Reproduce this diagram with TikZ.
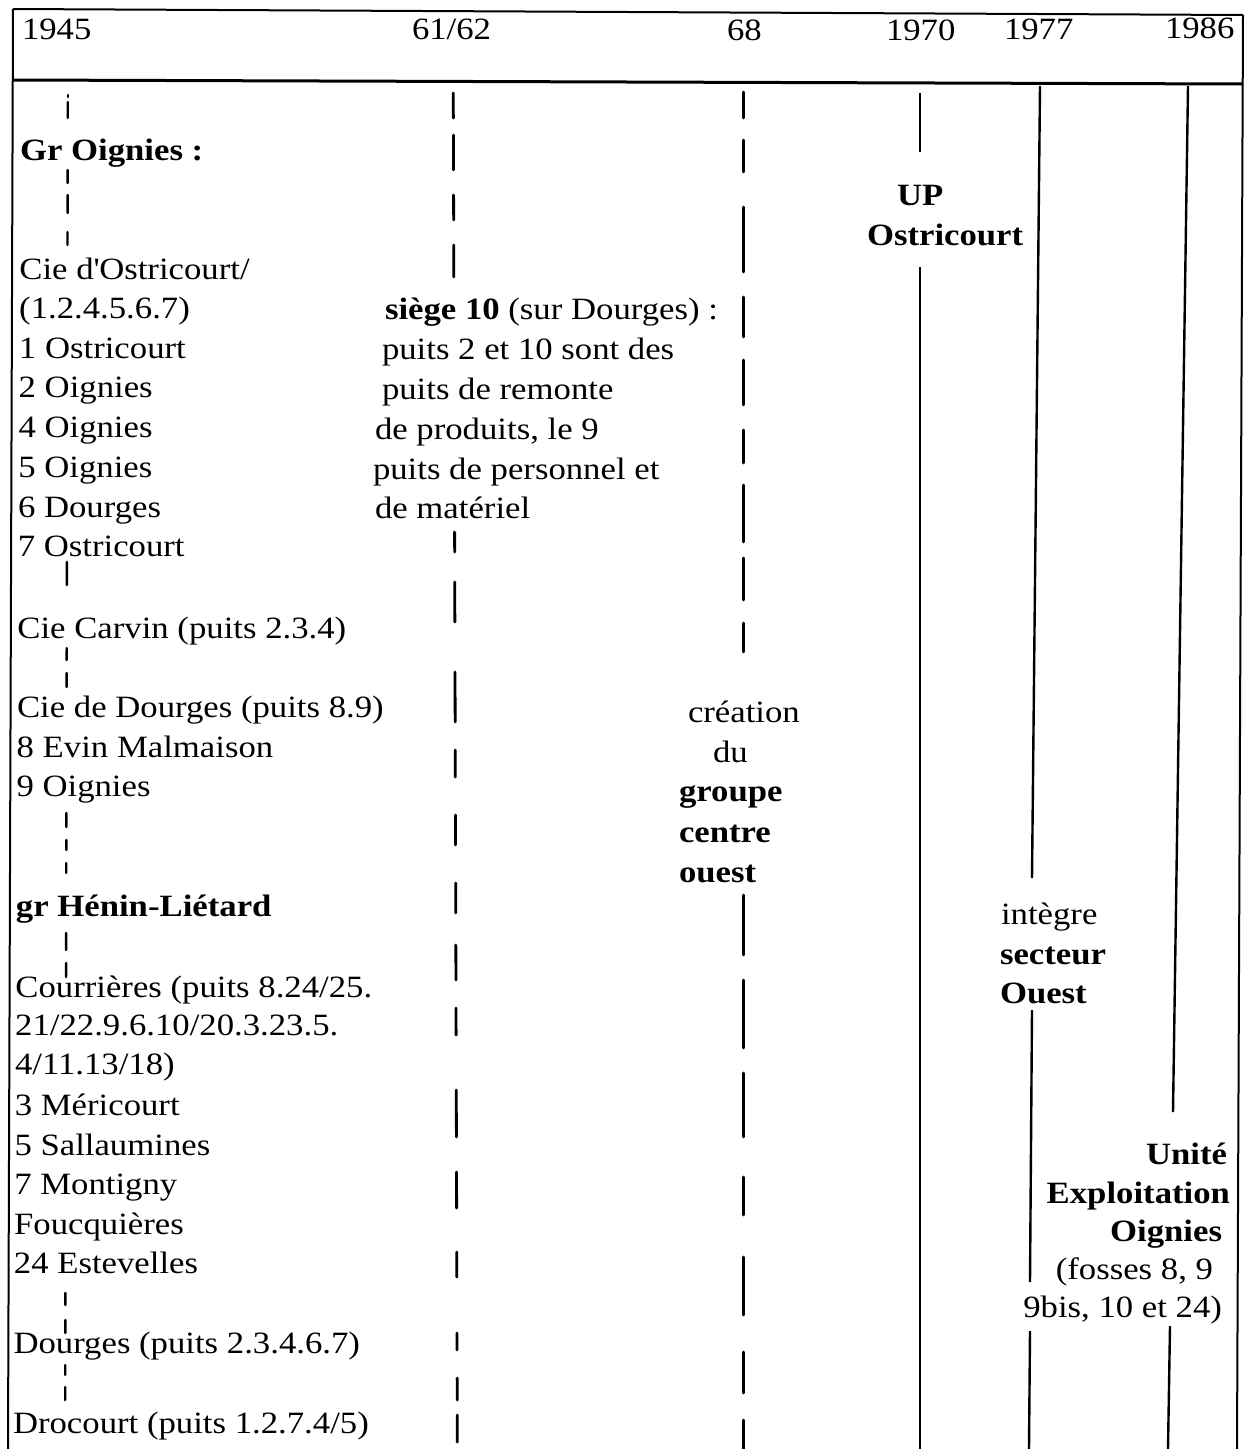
\documentclass[tikz,border=0pt]{standalone}
\usepackage{fontspec}
\setmainfont{Liberation Serif}[FakeStretch=1.12]
\begin{document}
\begin{tikzpicture}[x=1pt,y=-1pt,
  font=\fontsize{31}{40}\selectfont,
  txt/.style={anchor=base west,inner sep=0pt,outer sep=0pt},
  rtxt/.style={anchor=base east,inner sep=0pt,outer sep=0pt},
  framel/.style={line width=2pt},
  headl/.style={line width=3pt},
  colseg/.style={line width=2.8pt,line cap=round},
  thinseg/.style={line width=2.4pt,line cap=round},
  solidcol/.style={line width=2.4pt}]
\useasboundingbox (0,0) rectangle (1246,1449);
% frame
\draw[framel] (13,9) -- (1243,15);
\draw[framel] (13,9) -- (8,1449);
\draw[framel] (1243,15) -- (1237,1449);
\draw[headl] (13,80) -- (1243,84);
% header
\node[txt] (y1945) at (22,39) {1945};
\node[txt] (y6162) at (412,39) {61/62};
\node[txt] (y68) at (727,40) {68};
\node[txt] (y1970) at (886,40) {1970};
\node[txt] (y1977) at (1004,39) {1977};
\node[txt] (y1986) at (1165,38) {1986};
% 1945 column (dashed)
\draw[thinseg] (68,95) -- (68,97);
\foreach \a/\b in {102/118,170/183,195/213,232/245,562/585,648/660,673/687,813/827,840/850,863/873,933/950,963/977,1293/1305,1320/1333,1365/1375,1387/1400}
  \draw[thinseg] ({68-0.002*\a},\a) -- ({68-0.002*\b},\b);
% 61/62 column
\foreach \a/\b in {93/118,135/170,195/220,245/277,532/552,582/622,672/722,750/777,815/845,883/913,945/980,1008/1035,1090/1137,1172/1208,1252/1277,1333/1350,1378/1400,1415/1442}
  \draw[colseg] ({453+0.003*\a},\a) -- ({453+0.003*\b},\b);
% 68 column
\foreach \a/\b in {92/118,140/172,207/272,297/337,360/405,430/463,485/542,558/600,623/652,895/955,980/1048,1073/1137,1177/1215,1257/1315,1352/1393,1420/1449}
  \draw[colseg] (743.5,\a) -- (743.5,\b);
% 1970 column
\draw[solidcol] (920,93) -- (920,152);
\draw[solidcol] (920,267) -- (920,1449);
% 1977 column
\draw[solidcol] (1040,86) -- (1032,878);
\draw[solidcol] (1032,1010) -- (1030,1282);
\draw[solidcol] (1030,1331) -- (1029,1449);
% 1986 column
\draw[solidcol] (1188,86) -- (1173,1112);
\draw[solidcol] (1170,1326) -- (1168,1449);
% left column texts
\node[txt] (t01) at (20,160) {\bfseries Gr Oignies :};
\node[txt] (t02) at (19.4,279) {Cie d\textquotesingle Ostricourt/};
\node[txt] (t03) at (19.2,318) {(1.2.4.5.6.7)};
\node[txt] (t04) at (19,358) {1 Ostricourt};
\node[txt] (t05) at (18.7,397) {2 Oignies};
\node[txt] (t06) at (18.5,437) {4 Oignies};
\node[txt] (t07) at (18.3,477) {5 Oignies};
\node[txt] (t08) at (18,517) {6 Dourges};
\node[txt] (t09) at (17.8,556) {7 Ostricourt};
\node[txt] (t10) at (17.4,638) {Cie Carvin (puits 2.3.4)};
\node[txt] (t11) at (17,717) {Cie de Dourges (puits 8.9)};
\node[txt] (t12) at (16.7,757) {8 Evin Malmaison};
\node[txt] (t13) at (16.5,796) {9 Oignies};
\node[txt] (t14) at (15.9,916) {\bfseries gr Hénin-Liétard};
\node[txt] (t15) at (15.4,997) {Courrières (puits 8.24/25.};
\node[txt] (t16) at (15.2,1035) {21/22.9.6.10/20.3.23.5.};
\node[txt] (t17) at (15,1074) {4/11.13/18)};
\node[txt] (t18) at (14.8,1115) {3 Méricourt};
\node[txt] (t19) at (14.5,1155) {5 Sallaumines};
\node[txt] (t20) at (14.3,1194) {7 Montigny};
\node[txt] (t21) at (14.1,1234) {Foucquières};
\node[txt] (t22) at (13.9,1273) {24 Estevelles};
\node[txt] (t23) at (13.5,1353) {Dourges (puits 2.3.4.6.7)};
\node[txt] (t24) at (13,1433) {Drocourt (puits 1.2.7.4/5)};
% 61/62 texts
\node[txt] (m1) at (385,319) {\textbf{siège 10} (sur Dourges) :};
\node[txt] (m2) at (382,359) {puits 2 et 10 sont des};
\node[txt] (m3) at (382,399) {puits de remonte};
\node[txt] (m4) at (375,439) {de produits, le 9};
\node[txt] (m5) at (373,479) {puits de personnel et};
\node[txt] (m6) at (375,518) {de matériel};
% 68 texts
\node[txt] (c1) at (688,722) {création};
\node[txt] (c2) at (713,762) {du};
\node[txt] (c3) at (679,801) {\bfseries groupe};
\node[txt] (c4) at (679,842) {\bfseries centre};
\node[txt] (c5) at (679,882) {\bfseries ouest};
% 1970 texts
\node[txt] (u1) at (897,205) {\bfseries UP};
\node[txt] (u2) at (867,245) {\bfseries Ostricourt};
% 1977 texts
\node[txt] (s1) at (1001,924) {intègre};
\node[txt] (s2) at (1000,964) {\bfseries secteur};
\node[txt] (s3) at (1000,1003) {\bfseries Ouest};
% 1986 texts
\node[rtxt] (e1) at (1227,1164) {\bfseries Unité};
\node[rtxt] (e2) at (1230,1203) {\bfseries Exploitation};
\node[rtxt] (e3) at (1222,1241) {\bfseries Oignies};
\node[rtxt] (e4) at (1213,1279) {(fosses 8, 9};
\node[rtxt] (e5) at (1222,1317) {9bis, 10 et 24)};
\end{tikzpicture}
\end{document}
